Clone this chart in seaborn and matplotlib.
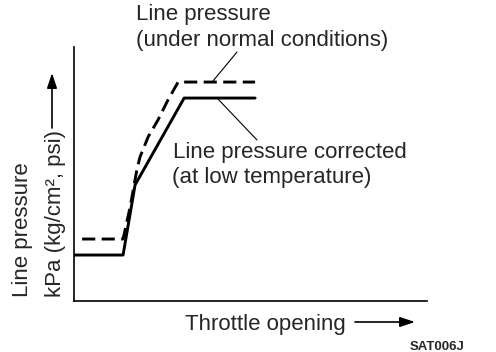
import matplotlib
matplotlib.use('Agg')
import matplotlib.pyplot as plt
import seaborn as sns
import pandas as pd

# Data (relative units: throttle opening %, line pressure %)
throttle_normal = [2.3, 13.9, 15.9, 17.8, 18.7, 21.0, 23.8, 26.6, 29.5, 51.3]
pressure_normal = [24.4, 24.4, 37.0, 51.6, 56.7, 64.6, 71.3, 79.1, 86.2, 86.2]
throttle_lowtemp = [0.0, 13.9, 17.3, 31.2, 51.3]
pressure_lowtemp = [18.1, 18.1, 45.7, 79.9, 79.9]

label_normal = ["Line pressure", "(under normal conditions)"]
label_lowtemp = ["Line pressure corrected", "(at low temperature)"]
xlabel = "Throttle opening"
ylabel_lines = ["Line pressure", "kPa (kg/cm², psi)"]
code_label = "SAT006J"

sns.set_style('white')
plt.rcParams['font.family'] = ['Liberation Sans', 'DejaVu Sans']

W, H = 496, 352
def P(x, y):
    return (x / W, 1 - y / H)

fig = plt.figure(figsize=(W / 100, H / 100), dpi=100)
ax = fig.add_axes([74 / W, 1 - 301 / H, 353 / W, 254 / H])

df_n = pd.DataFrame({'x': throttle_normal, 'y': pressure_normal})
df_l = pd.DataFrame({'x': throttle_lowtemp, 'y': pressure_lowtemp})
sns.lineplot(data=df_n, x='x', y='y', sort=False, estimator=None, color='black',
             lw=2.1, linestyle=(0, (4.5, 2.2)), ax=ax)
sns.lineplot(data=df_l, x='x', y='y', sort=False, estimator=None, color='black',
             lw=2.1, ax=ax)

ax.set_xlim(0, 100)
ax.set_ylim(0, 100)
ax.set_xticks([])
ax.set_yticks([])
ax.set_xlabel('')
ax.set_ylabel('')
for s in ['top', 'right']:
    ax.spines[s].set_visible(False)
for s in ['left', 'bottom']:
    ax.spines[s].set_color('black')
    ax.spines[s].set_linewidth(1.2)

fs = 16
fig.text(*P(136, 20), label_normal[0], ha='left', va='baseline', fontsize=fs)
fig.text(*P(136, 46), label_normal[1], ha='left', va='baseline', fontsize=fs)
fig.text(*P(173, 158), label_lowtemp[0], ha='left', va='baseline', fontsize=fs)
fig.text(*P(172, 183), label_lowtemp[1], ha='left', va='baseline', fontsize=fs)
fig.text(*P(185, 330), xlabel, ha='left', va='baseline', fontsize=fs)
fig.text(*P(410, 350), code_label, ha='left', va='baseline', fontsize=9.5, fontweight='bold')

fig.text(*P(28, 297), ylabel_lines[0], rotation=90, rotation_mode='anchor',
         ha='left', va='baseline', fontsize=fs)
fig.text(*P(61, 297), ylabel_lines[1], rotation=90, rotation_mode='anchor',
         ha='left', va='baseline', fontsize=fs)

arrow_kw = dict(arrowstyle='-|>,head_length=0.9,head_width=0.3', color='black',
                lw=1.2, shrinkA=0, shrinkB=0)
ax.annotate('', xy=P(52, 73), xytext=P(52, 128), xycoords='figure fraction',
            textcoords='figure fraction', arrowprops=arrow_kw, annotation_clip=False)
ax.annotate('', xy=P(415, 322), xytext=P(355, 322), xycoords='figure fraction',
            textcoords='figure fraction', arrowprops=arrow_kw, annotation_clip=False)

lead_kw = dict(arrowstyle='-', color='black', lw=0.8, shrinkA=0, shrinkB=0)
ax.annotate('', xy=P(213, 81), xytext=P(237, 52), xycoords='figure fraction',
            textcoords='figure fraction', arrowprops=lead_kw, annotation_clip=False)
ax.annotate('', xy=P(217, 98), xytext=P(257, 140), xycoords='figure fraction',
            textcoords='figure fraction', arrowprops=lead_kw, annotation_clip=False)

fig.savefig('out.png', dpi=100, facecolor='white')
